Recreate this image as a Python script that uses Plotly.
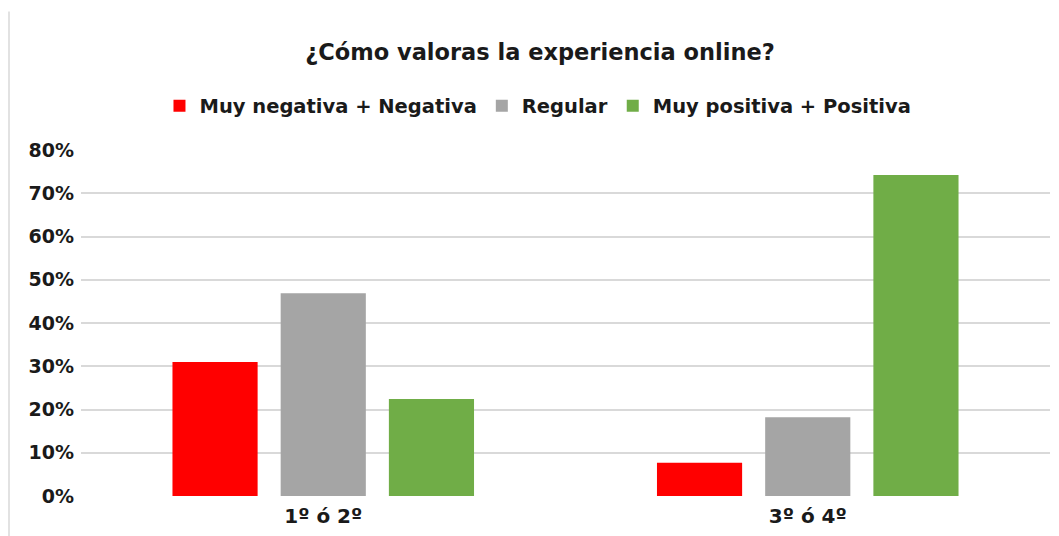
import plotly.graph_objects as go

categories = ["1º ó 2º", "3º ó 4º"]
series_names = ["Muy negativa + Negativa", "Regular", "Muy positiva + Positiva"]
negativa = [0.31, 0.077]
regular = [0.469, 0.182]
positiva = [0.224, 0.742]
colors = ["#FF0000", "#A5A5A5", "#70AD47"]
y_ticks = [0, 0.1, 0.2, 0.3, 0.4, 0.5, 0.6, 0.7, 0.8]

FONT = "DejaVu Sans, Liberation Sans, sans-serif"
TXT = "#1a1a1a"

W, H = 1051, 528  # page body adds an 8px offset

fig = go.Figure()
for name, vals, col in zip(series_names, [negativa, regular, positiva], colors):
    fig.add_trace(go.Bar(
        x=categories, y=vals, name="<b>" + name + "</b>",
        marker=dict(color=col, line=dict(width=0)),
    ))

fig.update_layout(
    width=W, height=H,
    barmode="group", bargap=0.33, bargroupgap=0.213,
    paper_bgcolor="white", plot_bgcolor="white",
    margin=dict(l=73, r=9, t=142, b=40),
    font=dict(family=FONT, size=20, color=TXT),
    title=dict(
        text="<b>¿Cómo valoras la experiencia online?</b>",
        x=532 / W, xref="container", xanchor="center",
        y=1 - 44 / H, yref="container", yanchor="middle",
        font=dict(family=FONT, size=22.5, color=TXT),
    ),
    legend=dict(
        orientation="h", x=0.4716, xanchor="center",
        y=1.127, yanchor="middle",
        font=dict(family=FONT, size=19.5, color=TXT),
        itemwidth=30, traceorder="normal",
    ),
    showlegend=True,
)
fig.update_xaxes(
    showgrid=False, showline=False, zeroline=False,
    tickfont=dict(family=FONT, size=20, color=TXT),
    ticklabelstandoff=6,
    tickvals=categories, ticktext=["<b>" + c + "</b>" for c in categories],
)
fig.update_yaxes(
    range=[0, 0.8], tickvals=y_ticks,
    ticktext=["<b>" + f"{int(round(v * 100))}%" + "</b>" for v in y_ticks],
    showgrid=True, gridcolor="#d9d9d9", gridwidth=1.5,
    zeroline=False, showline=False,
    tickfont=dict(family=FONT, size=19, color=TXT),
    ticklabelstandoff=6,
)
# light frame line on the left edge of the image
fig.add_shape(type="line", xref="paper", yref="paper",
              x0=-0.0743, x1=-0.0743, y0=-0.2, y1=1.4,
              line=dict(color="#d9d9d9", width=1.5))

fig.write_html("out.html")
